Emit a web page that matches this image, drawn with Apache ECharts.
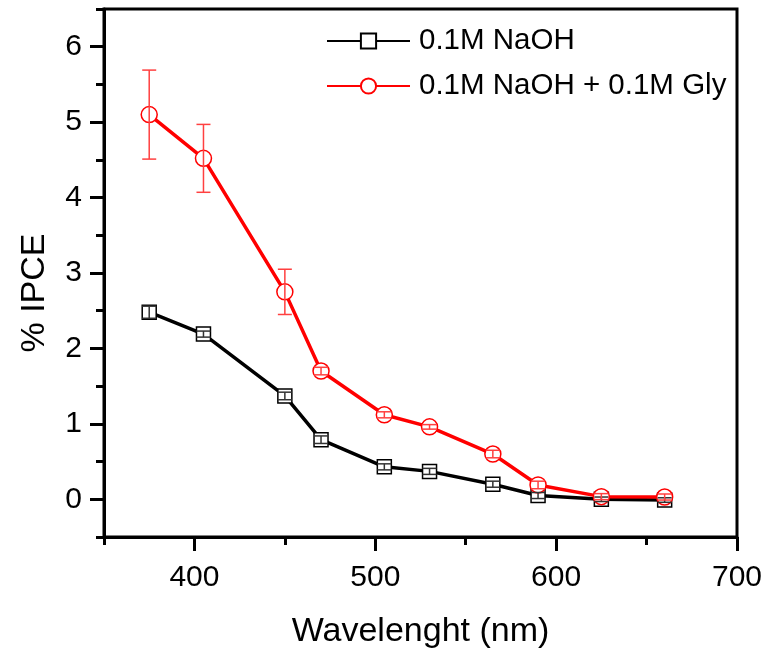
<!DOCTYPE html>
<html>
<head>
<meta charset="utf-8">
<style>html,body{margin:0;padding:0;background:#fff}#c{width:768px;height:657px}</style>
<script src="https://cdn.jsdelivr.net/npm/echarts@6/dist/echarts.min.js"></script>
</head>
<body>
<div id="c"></div>
<script>
const wavelengths = [375, 405, 450, 470, 505, 530, 565, 590, 625, 660];
const naoh = [2.48, 2.19, 1.37, 0.79, 0.43, 0.37, 0.20, 0.05, 0.00, -0.01];
const naohErr = [0.08, 0.04, 0.05, 0.05, 0.04, 0.04, 0.04, 0.04, 0.03, 0.03];
const gly = [5.10, 4.52, 2.75, 1.70, 1.12, 0.96, 0.60, 0.19, 0.035, 0.03];
const glyErr = [0.59, 0.45, 0.30, 0.05, 0.04, 0.03, 0.05, 0.05, 0.04, 0.04];
const xMajorTicks = [400, 500, 600, 700];
const yMajorTicks = [0, 1, 2, 3, 4, 5, 6];
const seriesNames = ['0.1M NaOH', '0.1M NaOH + 0.1M Gly'];

const FONT = 'Liberation Sans, Arial, sans-serif';
const chart = echarts.init(document.getElementById('c'));

function errSeries(vals, errs, color) {
  return {
    type: 'custom',
    silent: true,
    data: wavelengths.map((w, i) => [w, vals[i], errs[i]]),
    renderItem: function (params, api) {
      const x = api.value(0), y = api.value(1), e = api.value(2);
      const top = api.coord([x, y + e]);
      const bot = api.coord([x, y - e]);
      const hw = 7;
      const st = { stroke: color, lineWidth: 1.5 };
      return {
        type: 'group',
        children: [
          { type: 'line', shape: { x1: top[0], y1: top[1], x2: bot[0], y2: bot[1] }, style: st },
          { type: 'line', shape: { x1: top[0] - hw, y1: top[1], x2: top[0] + hw, y2: top[1] }, style: st },
          { type: 'line', shape: { x1: bot[0] - hw, y1: bot[1], x2: bot[0] + hw, y2: bot[1] }, style: st }
        ]
      };
    }
  };
}

const axisText = { fontFamily: FONT, fontSize: 30, color: '#000' };

chart.setOption({
  animation: false,
  backgroundColor: '#fff',
  grid: { left: 104, right: 31, top: 9, bottom: 120, show: true, borderColor: '#000', borderWidth: 3, containLabel: false, outerBoundsMode: 'none' },
  legend: {
    orient: 'vertical',
    left: 321,
    top: 21,
    itemWidth: 83,
    itemHeight: 19,
    itemGap: 15,
    data: seriesNames,
    textStyle: { fontFamily: FONT, fontSize: 29.5, lineHeight: 30, color: '#000', padding: [0, 0, 0, 4] }
  },
  xAxis: [
    {
      type: 'value', min: 350, max: 700, interval: 50,
      name: 'Wavelenght (nm)', nameLocation: 'middle', nameGap: 78,
      nameTextStyle: { fontFamily: FONT, fontSize: 34, color: '#000' },
      axisLine: { onZero: false, lineStyle: { color: '#000', width: 3 } },
      axisTick: { length: 8, lineStyle: { color: '#000', width: 3 } },
      axisLabel: { show: false },
      splitLine: { show: false }
    },
    {
      type: 'value', min: 350, max: 700, position: 'bottom',
      axisLine: { show: false, onZero: false },
      axisTick: { show: true, length: 14, customValues: xMajorTicks, lineStyle: { color: '#000', width: 3 } },
      axisLabel: Object.assign({ show: true, margin: 26, customValues: xMajorTicks }, axisText),
      splitLine: { show: false }
    }
  ],
  yAxis: [
    {
      type: 'value', min: -0.5, max: 6.5, interval: 0.5,
      name: '% IPCE', nameLocation: 'middle', nameGap: 52, nameRotate: 90,
      nameTextStyle: { fontFamily: FONT, fontSize: 34, color: '#000', padding: [0, 40, 0, 0] },
      axisLine: { show: true, onZero: false, lineStyle: { color: '#000', width: 3 } },
      axisTick: { show: true, length: 8, lineStyle: { color: '#000', width: 3 } },
      axisLabel: { show: false },
      splitLine: { show: false }
    },
    {
      type: 'value', min: -0.5, max: 6.5, position: 'left',
      axisLine: { show: false, onZero: false },
      axisTick: { show: true, length: 14, customValues: yMajorTicks, lineStyle: { color: '#000', width: 3 } },
      axisLabel: Object.assign({ show: true, margin: 22, customValues: yMajorTicks }, axisText),
      splitLine: { show: false }
    }
  ],
  series: [
    {
      name: seriesNames[0], type: 'line',
      data: wavelengths.map((w, i) => [w, naoh[i]]),
      symbol: 'rect', symbolSize: 14,
      lineStyle: { color: '#000', width: 3.5 },
      itemStyle: { color: '#fff', borderColor: '#000', borderWidth: 1.5 },
      z: 3
    },
    {
      name: seriesNames[1], type: 'line',
      data: wavelengths.map((w, i) => [w, gly[i]]),
      symbol: 'circle', symbolSize: 16,
      lineStyle: { color: '#ff0000', width: 3.5 },
      itemStyle: { color: '#fff', borderColor: '#ff0000', borderWidth: 1.5 },
      z: 4
    },
    Object.assign(errSeries(naoh, naohErr, '#333333'), { z: 5 }),
    Object.assign(errSeries(gly, glyErr, '#ff4040'), { z: 6 })
  ]
});
</script>
</body>
</html>
